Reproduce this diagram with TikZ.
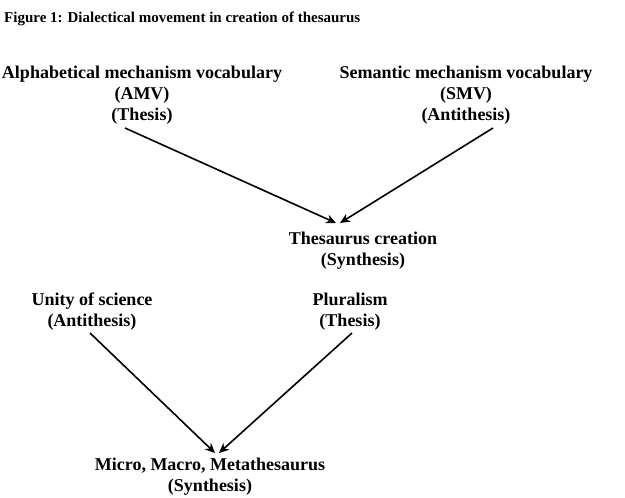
\documentclass[tikz,border=0pt]{standalone}
\usepackage{fontspec}
\setmainfont{Liberation Serif}
\usetikzlibrary{arrows.meta}

\begin{document}
\begin{tikzpicture}[
    x=1pt,y=-1pt,
    term/.style={
        align=center,
        inner sep=0pt,
        font=\fontsize{18}{21}\selectfont\bfseries
    },
    caption/.style={
        anchor=west,
        inner sep=0pt,
        font=\fontsize{15}{17}\selectfont\bfseries
    },
    arr/.style={-{Stealth[length=10pt,width=9pt]},line width=1.6pt}
]
\useasboundingbox (0,0) rectangle (625,498);

% ---------------------------------------------------------
% Titolo e concetti
% ---------------------------------------------------------

\node[caption] (title) at (4,19)
{Figure 1: Dialectical movement in creation of thesaurus};

\node[term] (amv) at (142,95)
{Alphabetical mechanism vocabulary\\(AMV)\\(Thesis)};

\node[term] (smv) at (466,95)
{Semantic mechanism vocabulary\\(SMV)\\(Antithesis)};

\node[term] (thes) at (363,251)
{Thesaurus creation\\(Synthesis)};

\node[term] (unity) at (92,312)
{Unity of science\\(Antithesis)};

\node[term] (plural) at (350,312)
{Pluralism\\(Thesis)};

\node[term] (micro) at (210,477)
{Micro, Macro, Metathesaurus\\(Synthesis)};

% ---------------------------------------------------------
% Punti di partenza e arrivo delle frecce
% ---------------------------------------------------------

\coordinate (amvout) at (125,128);
\coordinate (smvout) at (493,128);
\coordinate (thesinl) at (336,223);
\coordinate (thesinr) at (340,223);
\coordinate (unityout) at (90,333);
\coordinate (pluralout) at (352,333);
\coordinate (microinl) at (215,453);
\coordinate (microinr) at (219,453);

% ---------------------------------------------------------
% Movimento dialettico
% ---------------------------------------------------------

\draw[arr] (amvout) -- (thesinl);
\draw[arr] (smvout) -- (thesinr);

\draw[arr] (unityout) -- (microinl);
\draw[arr] (pluralout) -- (microinr);

\end{tikzpicture}
\end{document}
